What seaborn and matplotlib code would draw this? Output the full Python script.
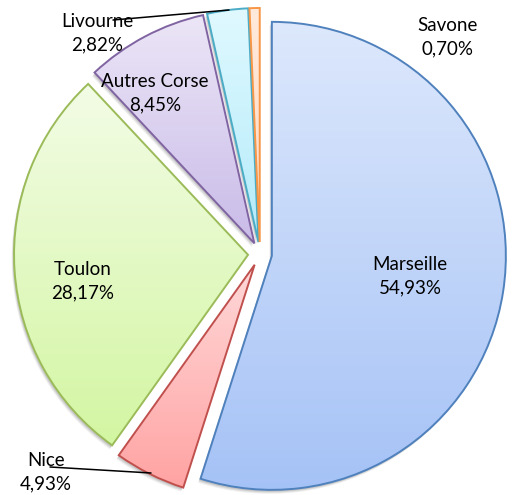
import numpy as np
import matplotlib
matplotlib.use("Agg")
from matplotlib import pyplot as plt
from matplotlib.colors import LinearSegmentedColormap
from matplotlib.patches import Wedge
import seaborn as sns

ports = ["Marseille", "Nice", "Toulon", "Autres Corse", "Livourne", "Savone"]
shares = [54.93, 4.93, 28.17, 8.45, 2.82, 0.70]
pct_labels = ["54,93%", "4,93%", "28,17%", "8,45%", "2,82%", "0,70%"]
edge_cols = ["#4f81bd", "#c0504d", "#9bbb59", "#8064a2", "#4bacc6", "#f79646"]
top_cols = ["#dde8fc", "#ffd8d8", "#f3fce6", "#ece6f7", "#e0f9ff", "#ffeadc"]
bottom_cols = ["#a5c2f6", "#ffa3a3", "#d3f6a2", "#c9bbe8", "#b3ebfa", "#ffd9c2"]

sns.set_theme(style="white")
plt.rcParams["font.family"] = ["Lato", "DejaVu Sans"]

H = 495
fig = plt.figure(figsize=(5.17, 4.95), dpi=100)
ax = fig.add_axes([0, 0, 1, 1])

cx, cy, R = 260, H - 254, 234
# explode is in data units here (radius is in pixels)
wedges, _ = ax.pie(shares, explode=[12] * len(shares), startangle=90,
                   counterclock=False, radius=R, center=(cx, cy),
                   colors=["none"] * len(shares),
                   wedgeprops=dict(linewidth=1.4))

# soft shadow under each slice
for w in wedges:
    for k, a in [(4, 0.06), (3, 0.08), (2, 0.10)]:
        sh = Wedge((w.center[0] - k * 0.6, w.center[1] - k), w.r, w.theta1, w.theta2,
                   facecolor="#000000", edgecolor="none", alpha=a, zorder=0)
        ax.add_patch(sh)

grad = np.linspace(0, 1, 256).reshape(-1, 1)
for w, ec, tc, bc in zip(wedges, edge_cols, top_cols, bottom_cols):
    w.set_edgecolor(ec)
    w.set_zorder(3)
    v = w.get_path().vertices
    x0, x1 = v[:, 0].min(), v[:, 0].max()
    y0, y1 = v[:, 1].min(), v[:, 1].max()
    cmap = LinearSegmentedColormap.from_list("g", [bc, tc])
    im = ax.imshow(grad, cmap=cmap, origin="lower", aspect="auto",
                   extent=(x0, x1, y0, y1), zorder=2, interpolation="bilinear")
    im.set_clip_path(w)

ax.set_xlim(0, 517)
ax.set_ylim(0, H)
ax.set_aspect("equal")
ax.axis("off")

label_pos = [(410, 276), (46, 472), (83, 281), (155, 93), (97, 33), (448, 37)]
for name, pct, (px, py) in zip(ports, pct_labels, label_pos):
    ax.text(px, H - py, f"{name}\n{pct}", ha="center", va="center",
            fontsize=13.5, color="black", linespacing=1.42, zorder=5)

# leader lines
ax.plot([113, 229], [H - 20, H - 10], color="black", lw=1.1, zorder=4)
ax.plot([50, 151], [H - 467, H - 473], color="black", lw=1.1, zorder=4)

fig.savefig("out.png", dpi=100)
